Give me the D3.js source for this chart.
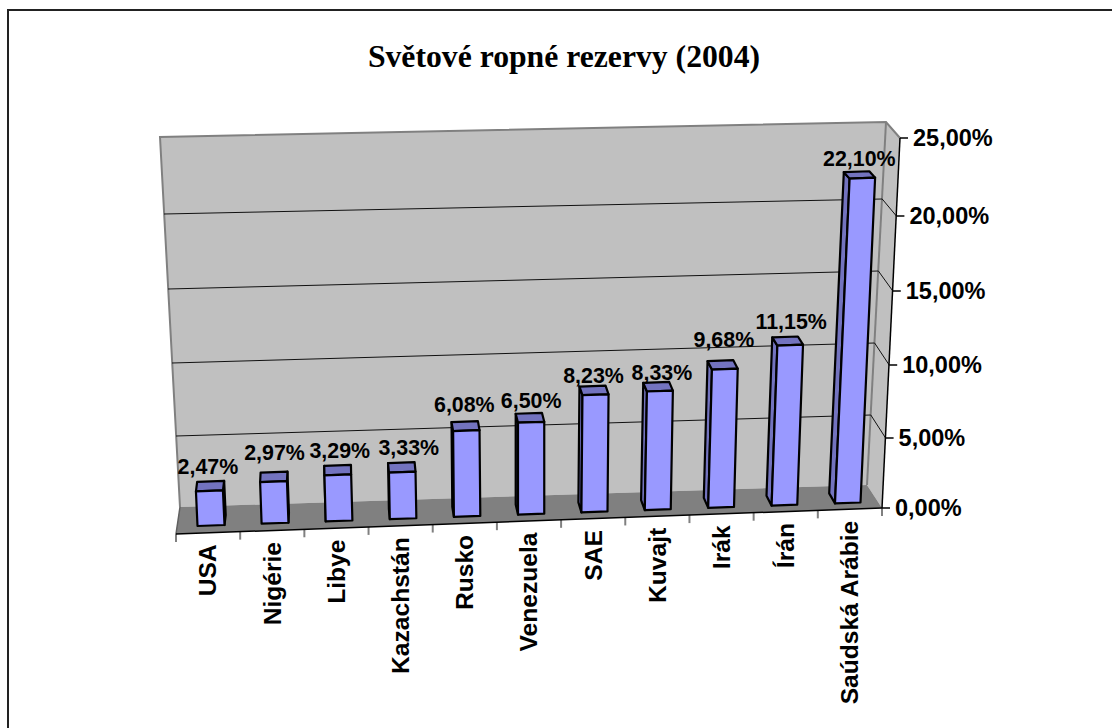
<!DOCTYPE html>
<html>
<head>
<meta charset="utf-8">
<script src="https://cdn.jsdelivr.net/npm/d3@7/dist/d3.min.js"></script>
<style>
html,body{margin:0;padding:0;background:#fff;overflow:hidden}
svg{display:block}
text{fill:#000}
</style>
</head>
<body>
<script>
const titleText = "Světové ropné rezervy (2004)";
const categories = ["USA","Nigérie","Libye","Kazachstán","Rusko","Venezuela","SAE","Kuvajt","Irák","Írán","Saúdská Arábie"];
const values = [2.47,2.97,3.29,3.33,6.08,6.50,8.23,8.33,9.68,11.15,22.10];
const valueLabels = ["2,47%","2,97%","3,29%","3,33%","6,08%","6,50%","8,23%","8,33%","9,68%","11,15%","22,10%"];
const tickValues = [0,5,10,15,20,25];
const tickLabels = ["0,00%","5,00%","10,00%","15,00%","20,00%","25,00%"];

const W = 1112, H = 728;
const svg = d3.select("body").append("svg").attr("width",W).attr("height",H);
const sans = "'Liberation Sans', Arial, sans-serif";

// --- 3D frame scales: one vertical scale per frame edge (perspective makes them differ)
const axisY  = d3.scaleLinear().domain(tickValues).range([508,438,365,291,216,138]);
const axisX  = d3.scaleLinear().domain([0,25]).range([882,900]);
const backLY = d3.scaleLinear().domain(tickValues).range([507,436,363,289,214,137]);
const backLX = d3.scaleLinear().domain([0,25]).range([180,160]);
const backRY = d3.scaleLinear().domain(tickValues).range([485,415,343,271,199,122]);
const backRX = d3.scaleLinear().domain([0,25]).range([867,886]);
const band   = d3.scaleBand().domain(categories).range([176,882]);
const floorFrontY = d3.scaleLinear().domain([176,882]).range([534,508]);
const idx = d3.scaleLinear().domain([0,categories.length-1]);

// --- bar geometry scales
const barLeft  = d3.scaleLinear().domain([0,5,10]).range([197.5,518,835]);
const barWidth = idx.copy().range([27,25.5]);
const barBaseY = d3.scaleLinear().domain([197,860]).range([526,502.5]);
const barLean  = idx.copy().range([-0.045,0.045]);
const depthDx  = idx.copy().range([1.2,-5.8]);
const depthDy  = d3.scaleLinear().domain([0,25]).range([-10,-6]);
const barH = v => axisY(0)-axisY(v);

const line = d3.line();
const poly = pts => line(pts)+"Z";

// --- walls and floor
const g = svg.append("g");
g.append("path").attr("d",poly([[backLX(25),backLY(25)],[backRX(25),backRY(25)],[backRX(0),backRY(0)],[backLX(0),backLY(0)]]))
  .attr("fill","#C0C0C0");
g.append("path").attr("d",poly([[backRX(25),backRY(25)],[axisX(25),axisY(25)],[axisX(0),axisY(0)],[backRX(0),backRY(0)]]))
  .attr("fill","#C0C0C0");
g.append("path").attr("d",poly([[backLX(0),backLY(0)],[backRX(0),backRY(0)],[axisX(0),axisY(0)],[176,floorFrontY(176)]]))
  .attr("fill","#808080");

// gray frame edges
g.append("path").attr("fill","none").attr("stroke","#808080").attr("stroke-width",2)
  .attr("d",line([[backLX(0),backLY(0)],[backLX(25),backLY(25)],[backRX(25),backRY(25)],[axisX(25),axisY(25)]]));
g.append("path").attr("fill","none").attr("stroke","#808080").attr("stroke-width",2)
  .attr("d",line([[backRX(25),backRY(25)],[backRX(0),backRY(0)]]));
g.append("path").attr("fill","none").attr("stroke","#606060").attr("stroke-width",1.5)
  .attr("d",line([[backLX(0),backLY(0)],[176,floorFrontY(176)]]));

// gridlines on back and side wall
g.selectAll(".grid").data(tickValues.filter(t=>t>0&&t<25)).enter().append("path")
  .attr("fill","none").attr("stroke","#111").attr("stroke-width",1)
  .attr("d",t=>line([[backLX(t),backLY(t)],[backRX(t),backRY(t)],[axisX(t),axisY(t)]]));

// category ticks
g.selectAll(".ct").data([176].concat(categories.map(c=>band(c)+band.step()))).enter().append("line")
  .attr("x1",d=>d).attr("x2",d=>d).attr("y1",d=>floorFrontY(d)).attr("y2",d=>floorFrontY(d)+8)
  .attr("stroke","#808080").attr("stroke-width",2);

// floor front edge and value axis
g.append("path").attr("fill","none").attr("stroke","#000").attr("stroke-width",1.5)
  .attr("d",line([[176,floorFrontY(176)],[882,floorFrontY(882)]]));
g.append("path").attr("fill","none").attr("stroke","#000").attr("stroke-width",1.5)
  .attr("d",line([[axisX(0),axisY(0)],[axisX(25),axisY(25)]]));

// value axis ticks and labels
const yt = svg.append("g").selectAll("g").data(tickValues).enter().append("g");
yt.append("line").attr("x1",t=>axisX(t)).attr("x2",t=>axisX(t)+8).attr("y1",t=>axisY(t)).attr("y2",t=>axisY(t))
  .attr("stroke","#000").attr("stroke-width",1.5);
yt.append("text").attr("x",t=>axisX(t)+13).attr("y",t=>axisY(t)).attr("dy","0.36em")
  .attr("font-family",sans).attr("font-weight","bold").attr("font-size",23.5)
  .text((t,i)=>tickLabels[i]);

// --- bars
const bars = svg.append("g").selectAll("g").data(values).enter().append("g");
function geom(v,i){
  const h = barH(v), x0 = barLeft(i), w = barWidth(i), lean = barLean(i)*h;
  const yB = barBaseY(x0), slope = (barBaseY(x0+w)-yB);
  const fbl=[x0,yB], fbr=[x0+w,yB+slope], ftl=[x0+lean,yB-h], ftr=[x0+w+lean,yB-h+slope];
  const dx=depthDx(i), dyB=depthDy(0), dyT=depthDy(v);
  const off=(p,dy)=>[p[0]+dx,p[1]+dy];
  return {fbl,fbr,ftl,ftr,btl:off(ftl,dyT),btr:off(ftr,dyT),bbl:off(fbl,dyB),bbr:off(fbr,dyB),dx,yTop:yB-h,cx:x0+w/2+lean};
}
const barStroke = sel => sel.attr("stroke","#000").attr("stroke-width",2.2).attr("stroke-linejoin","round");
bars.append("path").call(barStroke).attr("fill","#7373BF").attr("d",(v,i)=>{
  const a=geom(v,i);
  return a.dx<0 ? poly([a.fbl,a.ftl,a.btl,a.bbl]) : poly([a.fbr,a.ftr,a.btr,a.bbr]);
});
bars.append("path").call(barStroke).attr("fill","#7373BF").attr("d",(v,i)=>{
  const a=geom(v,i); return poly([a.ftl,a.ftr,a.btr,a.btl]);
});
bars.append("path").call(barStroke).attr("fill","#9999FF").attr("d",(v,i)=>{
  const a=geom(v,i); return poly([a.fbl,a.fbr,a.ftr,a.ftl]);
});

// --- data labels (small per-label layout nudges: [dx, dy]), drawn above all bars
const labelNudge = [[-1.5,-2],[1,-6],[2,-2],[6.5,-2],[-2,-4],[0,1],[-2,3],[2,3],[-1,-8],[1,-2],[-3,0]];
svg.append("g").selectAll("text").data(values).enter().append("text")
  .attr("text-anchor","middle").attr("font-family",sans).attr("font-weight","bold").attr("font-size",21.4)
  .attr("x",(v,i)=>geom(v,i).cx+labelNudge[i][0])
  .attr("y",(v,i)=>geom(v,i).btl[1]-14+labelNudge[i][1])
  .attr("dy","0.36em")
  .text((v,i)=>valueLabels[i]);

// --- category labels
svg.append("g").selectAll("text").data(categories).enter().append("text")
  .attr("text-anchor","end").attr("font-family",sans).attr("font-weight","bold").attr("font-size",24.6)
  .attr("dy","0.36em")
  .attr("transform",c=>{
    const cx=band(c)+band.bandwidth()/2-0.5;
    return `translate(${cx},${floorFrontY(cx)+11.5}) rotate(-90)`;
  })
  .text(c=>c);

// --- title
svg.append("text").attr("x",564).attr("y",67).attr("text-anchor","middle")
  .attr("font-family","'Liberation Serif','Times New Roman',serif").attr("font-weight","bold").attr("font-size",31.7)
  .text(titleText);

// --- chart area border (top and left only visible)
svg.append("path").attr("fill","none").attr("stroke","#222").attr("stroke-width",2)
  .attr("d",line([[8,H],[8,10],[W,10]]));
</script>
</body>
</html>
